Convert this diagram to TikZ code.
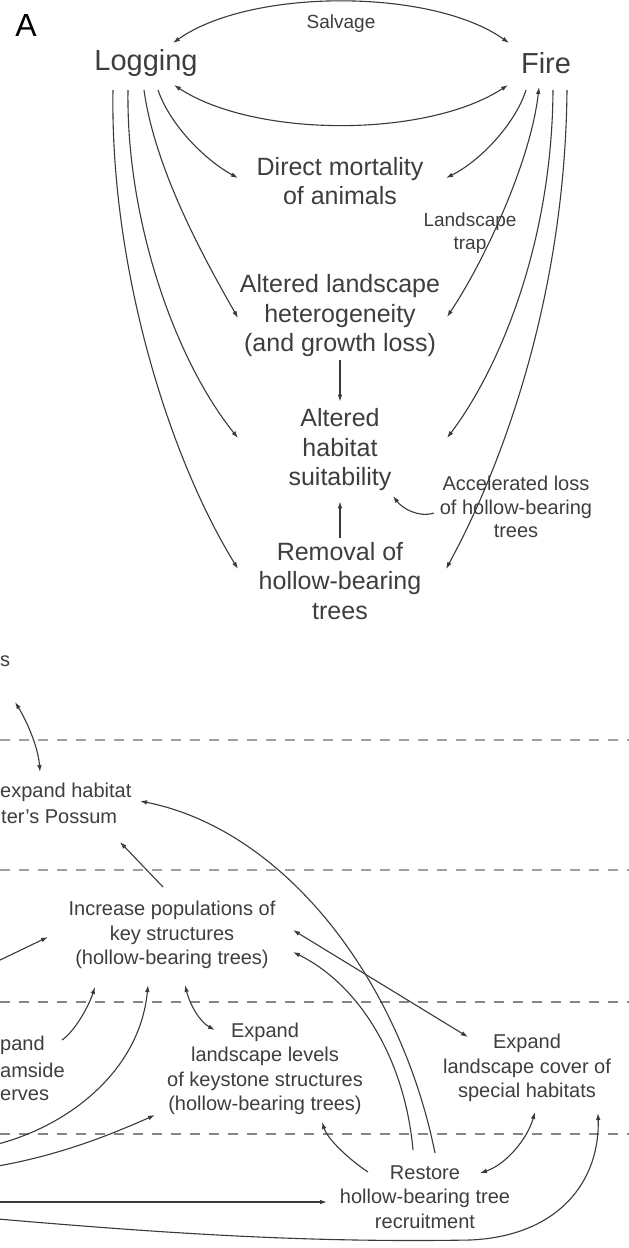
\documentclass[tikz,border=0pt]{standalone}
\usepackage{fontspec}
\setmainfont{Liberation Sans}
\usetikzlibrary{arrows.meta}
\definecolor{txtc}{HTML}{3E3E3E}
\definecolor{linec}{HTML}{3A3A3A}
\definecolor{sepc}{HTML}{A0A0A0}
\definecolor{sepd}{HTML}{858585}
\begin{document}
\begin{tikzpicture}[x=1pt,y=-1pt,
  txt/.style={text=txtc, align=center, inner sep=0pt},
  big/.style={txt, font=\fontsize{29}{33}\selectfont},
  mid/.style={txt, font=\fontsize{25}{29.5}\selectfont},
  sml/.style={txt, font=\fontsize{20}{24.5}\selectfont},
  con/.style={draw=linec, line width=1.1pt, -{Latex[length=7pt,width=4.6pt]}},
  dcon/.style={draw=linec, line width=1.1pt, {Latex[length=7pt,width=4.6pt]}-{Latex[length=7pt,width=4.6pt]}},
  sepa/.style={draw=sepc, line width=2pt, dash pattern=on 10pt off 9pt},
  sepb/.style={draw=sepd, line width=1.2pt, dash pattern=on 10pt off 9pt},
]
\fill[white] (0,0) rectangle (629,1248);
\useasboundingbox (0,0) rectangle (629,1248);
\clip (0,0) rectangle (629,1248);

% ---------- separators ----------
\draw[sepa] (0,740) -- (629,740);
\draw[sepa] (0,870) -- (629,870);
\draw[sepb] (0,1002) -- (629,1002);
\draw[sepb] (0,1134) -- (629,1134);

% ---------- top panel nodes ----------
\node[txt, text=black, font=\fontsize{32}{36}\selectfont] (lab) at (26,25) {A};
\node[txt, font=\fontsize{19}{22}\selectfont] (salv) at (341,24) {Salvage};
\node[big] (log) at (146,63) {Logging};
\node[big] (fire) at (546,63) {Fire};
\node[mid] (dm) at (340,181) {Direct mortality\\of animals};
\node[txt, font=\fontsize{19}{23}\selectfont] (trap) at (470,233) {Landscape\\trap};
\node[mid] (alh) at (340,316) {Altered landscape\\heterogeneity\\(and growth loss)};
\node[mid] (ahs) at (340,450) {Altered\\habitat\\suitability};
\node[txt, font=\fontsize{20}{23.5}\selectfont] (acc) at (516,507) {Accelerated loss\\of hollow-bearing\\trees};
\node[mid] (rem) at (340,581) {Removal of\\hollow-bearing\\trees};

% ---------- top panel connector ends ----------
\coordinate (sl) at (173,43);  \coordinate (sr) at (509,43);
\coordinate (ll) at (174,85);  \coordinate (lr) at (508,85);
\coordinate (L1) at (158,90);  \coordinate (L2) at (144,90);
\coordinate (L3) at (128,90);  \coordinate (L4) at (113,90);
\coordinate (F1) at (526,90);  \coordinate (F2) at (539,87);
\coordinate (F3) at (553,90);  \coordinate (F4) at (567,90);
\coordinate (dmL) at (238,178);  \coordinate (dmR) at (446,178);
\coordinate (alhL) at (238,318); \coordinate (alhR) at (447,317);
\coordinate (ahsL) at (238,438); \coordinate (ahsR) at (447,438);
\coordinate (remL) at (238,569); \coordinate (remR) at (446,569);
\coordinate (accA) at (434,513); \coordinate (ahsA) at (393,496);

\draw[dcon] (sl) .. controls (250,-12) and (432,-12) .. (sr);
\draw[dcon] (ll) .. controls (255,138) and (427,138) .. (lr);

\draw[con] (L1) .. controls (170,125) and (205,160) .. (dmL);
\draw[con] (L2) .. controls (155,170) and (205,260) .. (alhL);
\draw[con] (L3) .. controls (126,220) and (175,360) .. (ahsL);
\draw[con] (L4) .. controls (110,260) and (165,450) .. (remL);

\draw[con]  (F1) .. controls (516,122) and (482,160) .. (dmR);
\draw[dcon] (F2) .. controls (531,160) and (485,260) .. (alhR);
\draw[con]  (F3) .. controls (552,250) and (495,375) .. (ahsR);
\draw[con]  (F4) .. controls (565,300) and (500,470) .. (remR);

\draw[con, shorten <=3pt, shorten >=7pt] (alh.south) -- (ahs.north);
\draw[con, shorten <=4pt, shorten >=10pt] (rem.north) -- (ahs.south);
\draw[con] (accA) .. controls (418,518) and (402,508) .. (ahsA);

% ---------- bottom panel nodes ----------
\node[sml, anchor=west] (s) at (0,661) {s};
\node[sml, anchor=west] (eh) at (0,792) {expand habitat};
\node[sml, anchor=west] (lp) at (1,817) {ter’s Possum};
\node[sml] (inc) at (172,935) {Increase populations of\\key structures\\(hollow-bearing trees)};
\node[sml, anchor=west] (st1) at (0,1045) {pand};
\node[sml, anchor=west] (st2) at (0,1070) {amside};
\node[sml, anchor=west] (st3) at (0,1095) {erves};
\node[sml] (ekl) at (265,1069) {Expand\\landscape levels\\of keystone structures\\(hollow-bearing trees)};
\node[sml] (ecs) at (527,1068) {Expand\\landscape cover of\\special habitats};
\node[sml] (rst) at (425,1197) {Restore\\hollow-bearing tree\\recruitment};

% ---------- bottom panel connector ends ----------
\coordinate (sA) at (15,702);    \coordinate (ehA) at (40,772);
\coordinate (incT) at (163,887); \coordinate (lpA) at (120,842);
\coordinate (edgeA) at (-2,961); \coordinate (incL) at (48,937);
\coordinate (stA) at (62,1040);  \coordinate (incB1) at (95,987);
\coordinate (edgeB) at (-2,1144); \coordinate (incB2) at (148,985);
\coordinate (incB3) at (185,985); \coordinate (eklT) at (215,1030);
\coordinate (edgeC) at (-2,1166); \coordinate (eklL) at (155,1115);
\coordinate (edgeD) at (-2,1202); \coordinate (rstL) at (327,1202);
\coordinate (edgeE) at (-2,1219); \coordinate (ecsB) at (598,1113);
\coordinate (incR) at (293,930);  \coordinate (ecsT) at (468,1037);
\coordinate (rstT1) at (413,1150); \coordinate (incR2) at (293,952);
\coordinate (rstT2) at (435,1153); \coordinate (ehR) at (140,801);
\coordinate (rstA) at (368,1172);  \coordinate (eklB) at (322,1122);
\coordinate (rstB) at (480,1173);  \coordinate (ecsB2) at (535,1112);

\draw[dcon] (sA) .. controls (25,718) and (38,745) .. (ehA);
\draw[con] (incT) -- (lpA);
\draw[con] (edgeA) -- (incL);
\draw[con] (stA) .. controls (74,1032) and (88,1008) .. (incB1);
\draw[con] (edgeB) .. controls (70,1125) and (140,1070) .. (incB2);
\draw[dcon] (incB3) .. controls (190,1005) and (200,1022) .. (eklT);
\draw[con] (edgeC) .. controls (60,1155) and (110,1135) .. (eklL);
\draw[con] (edgeD) -- (rstL);
\draw[con] (edgeE) .. controls (150,1232) and (300,1243) .. (470,1240)
                   .. controls (560,1236) and (600,1180) .. (ecsB);
\draw[dcon] (incR) -- (ecsT);
\draw[con] (rstT1) .. controls (405,1060) and (360,985) .. (incR2);
\draw[con] (rstT2) .. controls (400,980) and (285,830) .. (ehR);
\draw[con] (rstA) .. controls (350,1160) and (328,1140) .. (eklB);
\draw[dcon] (rstB) .. controls (505,1165) and (527,1140) .. (ecsB2);
\end{tikzpicture}
\end{document}
